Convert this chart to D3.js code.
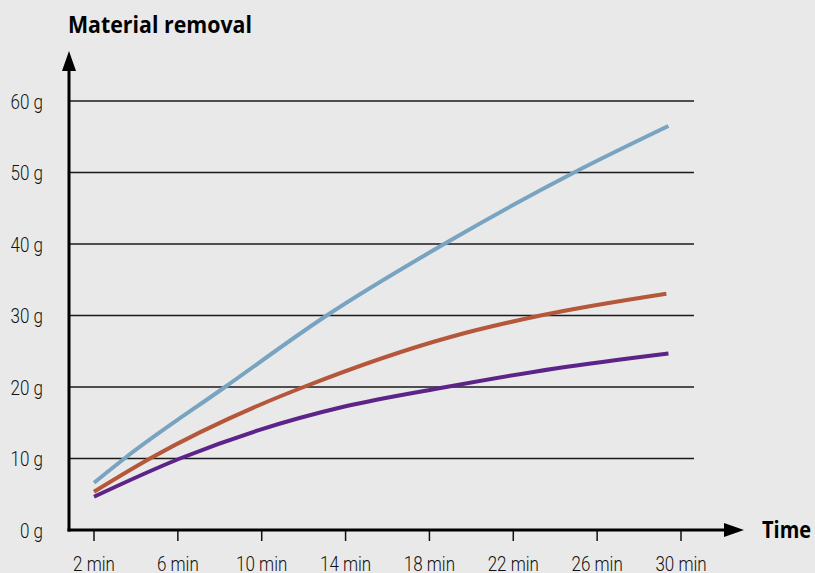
<!DOCTYPE html>
<html>
<head>
<meta charset="utf-8">
<script src="https://cdn.jsdelivr.net/npm/d3@7"></script>
<style>
  html, body { margin: 0; padding: 0; background: #e9e9e9; }
  #chart { width: 815px; height: 573px; }
  .tick-label { font-family: Roboto, "Liberation Sans", sans-serif; font-weight: 300; font-size: 20px; fill: #111; }
  .axis-title { font-family: "Open Sans", "DejaVu Sans", sans-serif; font-weight: bold; font-size: 23px; fill: #000; }
</style>
</head>
<body>
<div id="chart"></div>
<script>
// Tick labels
const xTicks = [2, 6, 10, 14, 18, 22, 26, 30];
const yTicks = [0, 10, 20, 30, 40, 50, 60];

// Series (time in min, removal in g)
const blueTime = [2, 3.45, 8.25, 13.1, 18.7, 24.9, 29.4];
const blueValue = [6.6, 10, 20, 30, 40, 50, 56.5];
const orangeTime = [2, 4.67, 10.15, 12.0, 19.0, 23.3, 29.3];
const orangeValue = [5.35, 10, 17.8, 20, 27.0, 30, 33.05];
const purpleTime = [2, 6.1, 9.9, 14, 18.8, 24, 29.4];
const purpleValue = [4.65, 10, 14.0, 17.3, 20, 22.6, 24.7];

const seriesColors = ["#78a3c1", "#b5573a", "#5c2389"];

function createChart() {
  const container = document.getElementById('chart');
  const W = 815, H = 573;
  const margin = { left: 69 };

  const svg = d3.select(container).append("svg")
    .attr("width", W)
    .attr("height", H);

  // scales: 2 min -> 94px, 30 min -> 681px ; 0 g -> 530px, 60 g -> 101px
  const xScale = d3.scaleLinear().domain([2, 30]).range([94, 681]);
  const yScale = d3.scaleLinear().domain([0, 60]).range([530, 101]);

  const gridRight = 694;
  const squeeze = 0.85; // condensed look for tick labels

  // Horizontal grid lines
  svg.append("g")
    .selectAll("line")
    .data(yTicks.filter(d => d > 0))
    .enter().append("line")
    .attr("x1", margin.left)
    .attr("x2", gridRight)
    .attr("y1", d => yScale(d))
    .attr("y2", d => yScale(d))
    .attr("stroke", "#1a1a1a")
    .attr("stroke-width", 1.5);

  // Y tick labels
  svg.append("g")
    .selectAll("text")
    .data(yTicks)
    .enter().append("text")
    .attr("class", "tick-label")
    .attr("transform", d => `translate(43,${yScale(d) + 7.5}) scale(${squeeze},1)`)
    .attr("text-anchor", "end")
    .text(d => d + " g");

  // X ticks
  const xg = svg.append("g");
  xg.selectAll("line")
    .data(xTicks)
    .enter().append("line")
    .attr("x1", d => xScale(d))
    .attr("x2", d => xScale(d))
    .attr("y1", yScale(0))
    .attr("y2", yScale(0) + 11)
    .attr("stroke", "#111")
    .attr("stroke-width", 1.5);
  xg.selectAll("text")
    .data(xTicks)
    .enter().append("text")
    .attr("class", "tick-label")
    .attr("transform", d => `translate(${xScale(d)},570.5) scale(${squeeze},1)`)
    .attr("text-anchor", "middle")
    .text(d => d + " min");

  // Lines
  const series = [
    { t: blueTime, v: blueValue },
    { t: orangeTime, v: orangeValue },
    { t: purpleTime, v: purpleValue }
  ];
  const line = d3.line()
    .x(d => xScale(d[0]))
    .y(d => yScale(d[1]))
    .curve(d3.curveMonotoneX);

  svg.append("g")
    .selectAll("path")
    .data(series)
    .enter().append("path")
    .attr("d", s => line(s.t.map((t, i) => [t, s.v[i]])))
    .attr("fill", "none")
    .attr("stroke", (s, i) => seriesColors[i])
    .attr("stroke-width", 4);

  // Axes with arrows
  svg.append("line")
    .attr("x1", margin.left).attr("x2", margin.left)
    .attr("y1", yScale(0) + 1.5).attr("y2", 68)
    .attr("stroke", "#000").attr("stroke-width", 3);
  svg.append("path")
    .attr("d", `M${margin.left - 7},71 L${margin.left},51 L${margin.left + 7},71 Z`)
    .attr("fill", "#000");

  svg.append("line")
    .attr("x1", margin.left - 1.5).attr("x2", 726)
    .attr("y1", yScale(0)).attr("y2", yScale(0))
    .attr("stroke", "#000").attr("stroke-width", 3);
  svg.append("path")
    .attr("d", `M724,${yScale(0) - 7} L744,${yScale(0)} L724,${yScale(0) + 7} Z`)
    .attr("fill", "#000");

  // Axis titles
  svg.append("text")
    .attr("class", "axis-title")
    .attr("x", 68)
    .attr("y", 33.3)
    .attr("textLength", 184)
    .attr("lengthAdjust", "spacingAndGlyphs")
    .text("Material removal");

  svg.append("text")
    .attr("class", "axis-title")
    .attr("x", 762)
    .attr("y", 538)
    .attr("textLength", 49)
    .attr("lengthAdjust", "spacingAndGlyphs")
    .text("Time");
}

createChart();
</script>
</body>
</html>
